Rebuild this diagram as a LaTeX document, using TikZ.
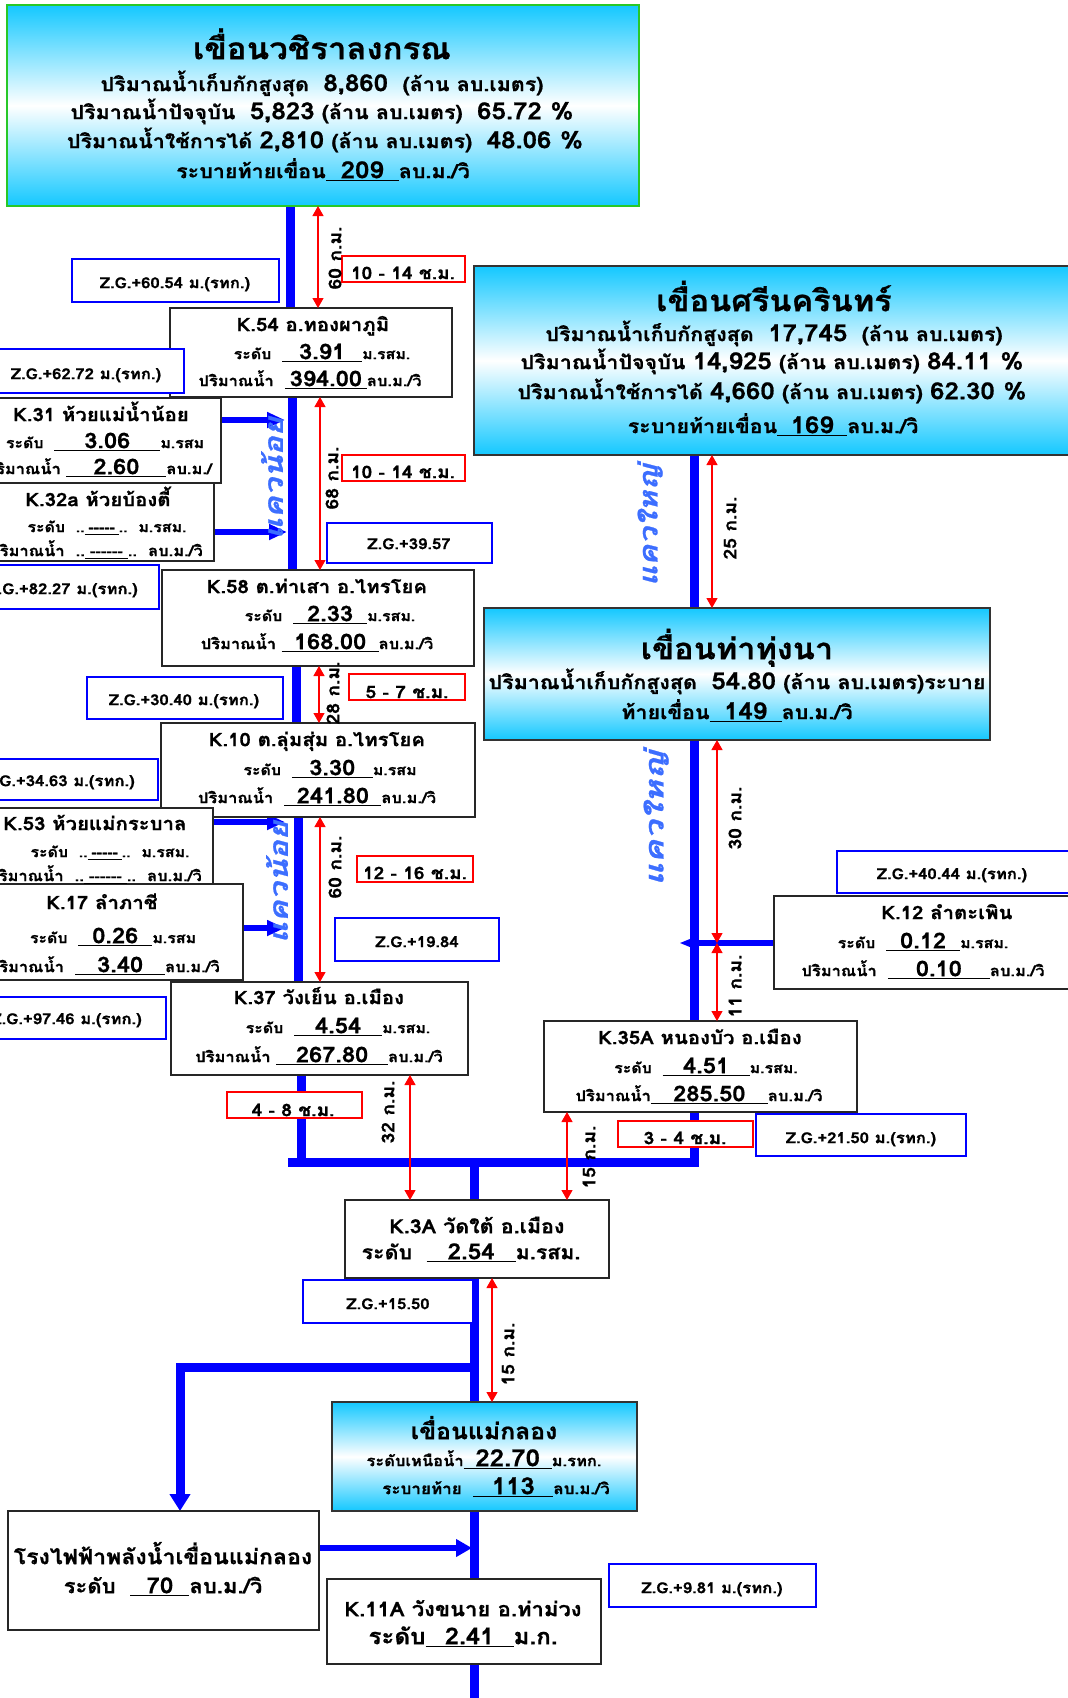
\documentclass[tikz,border=0pt]{standalone}
\usepackage{fontspec}
\newfontfamily\thai[Script=Thai,FakeStretch=1.1,FakeBold=0.8]{Loma}
\usetikzlibrary{arrows.meta}
\definecolor{cy}{RGB}{20,200,255}
\definecolor{kblue}{RGB}{0,0,255}
\definecolor{lblue}{RGB}{60,110,255}
\definecolor{zgreen}{RGB}{40,200,40}
\newcommand\fs[1]{\fontsize{#1}{#1}\selectfont}
\newcommand\uv[2]{\rlap{\rule[-3pt]{#1pt}{1.3pt}}\makebox[#1pt]{#2}}
\newcommand\dd{-\kern0pt}
\newcommand\bxn[6]{\node[#2, anchor=north west, minimum width={(#5)-(#3)}, minimum height={(#6)-(#4)}] (#1) at (#3,#4) {};}
\pgfdeclarelayer{riv}
\pgfsetlayers{riv,main}
\begin{document}
\begin{tikzpicture}[x=1pt,y=-1pt,font=\thai\bfseries,
  bx/.style={draw=black!85, line width=1.4pt, fill=white, inner sep=0, outer sep=0},
  zg/.style={draw=kblue, line width=1.3pt, fill=white, inner sep=0, outer sep=0},
  hr/.style={draw=red, line width=1.3pt, fill=white, inner sep=0, outer sep=0},
  dam/.style={draw=black!80, line width=1.5pt, top color=cy, bottom color=cy, middle color=white, inner sep=0, outer sep=0},
  river/.style={draw=kblue, line width=9pt},
  trib/.style={draw=kblue, line width=6pt, -{Triangle[length=18pt,width=15pt]}},
  dist/.style={draw=red, line width=1.2pt, {Triangle[length=10pt,width=11pt]}-{Triangle[length=10pt,width=11pt]}},
  tx/.style={anchor=mid, inner sep=0, yshift=-4pt},
  ttl/.style={anchor=mid, inner sep=0, yshift=-7pt},
  txe/.style={anchor=mid east, inner sep=0, yshift=-4pt},
  km/.style={rotate=90, inner sep=0, font=\thai\bfseries\fs{17.5}},
  kw/.style={rotate=90, inner sep=0, text=lblue, font=\thai\bfseries\itshape\fs{26}}]
\useasboundingbox (0,0) rectangle (1068,1698);
% ---------- coordinates
\coordinate (xr1) at (290,0);
\coordinate (xr2) at (292,0);
\coordinate (xr3) at (296,0);
\coordinate (xr4) at (298,0);
\coordinate (xr5) at (301,0);
\coordinate (xR) at (694,0);
\coordinate (xC) at (474,0);
\coordinate (xP) at (180,0);
\coordinate (jL) at (288,1162);
\coordinate (jR) at (694,1162);
\coordinate (jC) at (474,1162);
\coordinate (j5) at (301,1166.5);
\coordinate (bj) at (474,1367);
\coordinate (pe) at (472,1548);
\coordinate (bot) at (474,1710);
\coordinate (t31) at (285,420);
\coordinate (t32) at (287,532);
\coordinate (t53) at (285,822);
\coordinate (t17) at (285,928);
\coordinate (t12) at (679,943);
\coordinate (xa1) at (318,0);
\coordinate (xa2) at (320,0);
\coordinate (xa3) at (319,0);
\coordinate (xa4) at (320,0);
\coordinate (xa5) at (410,0);
\coordinate (xa6) at (712,0);
\coordinate (xa7) at (717,0);
\coordinate (xa9) at (567,0);
\coordinate (xa10) at (492,0);
% ---------- boxes
\bxn{d1}{dam,draw=zgreen}{7}{5}{639}{206}
\bxn{d2}{dam}{474}{266}{1075}{455}
\bxn{d3}{dam}{484}{608}{990}{740}
\bxn{d4}{dam}{332}{1402}{637}{1511}
\bxn{k54}{bx}{170}{308}{452}{397}
\bxn{k31}{bx}{-10}{398}{221}{483}
\bxn{k32}{bx}{-10}{483}{214}{561}
\bxn{k58}{bx}{162}{570}{474}{666}
\bxn{k10}{bx}{161}{723}{475}{817}
\bxn{k53}{bx}{-10}{808}{213}{884}
\bxn{k17}{bx}{-10}{884}{243}{980}
\bxn{k37}{bx}{171}{982}{468}{1075}
\bxn{k12}{bx}{774}{896}{1075}{989}
\bxn{k35}{bx}{544}{1021}{857}{1112}
\bxn{k3a}{bx}{345}{1200}{609}{1278}
\bxn{pw}{bx}{8}{1511}{319}{1630}
\bxn{k11}{bx}{327}{1579}{601}{1664}
\bxn{zg1}{zg}{72}{259}{279}{302}
\bxn{zg2}{zg}{-5}{349}{184}{393}
\bxn{zg3}{zg}{-40}{565}{159}{609}
\bxn{zg4}{zg}{327}{523}{492}{563}
\bxn{zg5}{zg}{87}{677}{283}{719}
\bxn{zg6}{zg}{-40}{759}{158}{800}
\bxn{zg7}{zg}{335}{918}{499}{961}
\bxn{zg8}{zg}{-40}{997}{166}{1039}
\bxn{zg9}{zg}{837}{851}{1075}{893}
\bxn{zg10}{zg}{756}{1114}{966}{1156}
\bxn{zg11}{zg}{303}{1280}{473}{1323}
\bxn{zg12}{zg}{609}{1564}{816}{1607}
\bxn{h1}{hr}{342}{256}{465}{282}
\bxn{h2}{hr}{342}{455}{465}{481}
\bxn{h3}{hr}{349}{674}{465}{700}
\bxn{h4}{hr}{357}{856}{473}{882}
\bxn{h5}{hr}{227}{1092}{362}{1118}
\bxn{h6}{hr}{618}{1121}{753}{1147}
% ---------- rivers (lower layer)
\begin{pgfonlayer}{riv}
\fill[white] (0,0) rectangle (1068,1698);
\draw[river] (d1.south -| xr1) -- (k54.north -| xr1);
\draw[river] (k54.south -| xr2) -- (k58.north -| xr2);
\draw[river] (k58.south -| xr3) -- (k10.north -| xr3);
\draw[river] (k10.south -| xr4) -- (k37.north -| xr4);
\draw[river] (k37.south -| xr5) -- (j5);
\draw[river] (k35.south -| xR) -- (jR) -- (jL);
\draw[river] (d2.south -| xR) -- (d3.north -| xR);
\draw[river] (d3.south -| xR) -- (k35.north -| xR);
\draw[river] (jC) -- (k3a.north -| xC);
\draw[river] (k3a.south -| xC) -- (d4.north -| xC);
\draw[river] (d4.south -| xC) -- (k11.north -| xC);
\draw[river] (k11.south -| xC) -- (bot);
\draw[river,-{Triangle[length=17pt,width=20pt]}] (bj) -| (pw.north -| xP);
\draw[kblue,line width=6pt,-{Triangle[length=16pt,width=17pt]}] (pw.east |- pe) -- (pe);
\draw[trib] (k31.east |- t31) -- (t31);
\draw[trib] (k32.east |- t32) -- (t32);
\draw[trib] (k53.east |- t53) -- (t53);
\draw[trib] (k17.east |- t17) -- (t17);
\draw[kblue,line width=6pt,-{Triangle[length=19pt,width=13pt]}] (k12.west |- t12) -- (t12);
\end{pgfonlayer}
% ---------- distance arrows
\draw[dist] (d1.south -| xa1) -- (k54.north -| xa1);
\draw[dist] (k54.south -| xa2) -- (k58.north -| xa2);
\draw[dist] (k58.south -| xa3) -- (k10.north -| xa3);
\draw[dist] (k10.south -| xa4) -- (k37.north -| xa4);
\draw[dist] (k37.south -| xa5) -- (k3a.north -| xa5);
\draw[dist] (d2.south -| xa6) -- (d3.north -| xa6);
\draw[dist] (d3.south -| xa7) -- (t12 -| xa7);
\draw[dist] (t12 -| xa7) -- (k35.north -| xa7);
\draw[dist] (k35.south -| xa9) -- (k3a.north -| xa9);
\draw[dist] (k3a.south -| xa10) -- (d4.north -| xa10);
% ---------- dam texts
\node[ttl] (d1a) at (322,50) {\fs{30}เขื่อนวชิราลงกรณ};
\node[tx] (d1b) at (322,85) {\fs{19.5}ปริมาณน้ำเก็บกักสูงสุด\ \ {\fs{23.5}8,860}\ \ (ล้าน ลบ.เมตร)};
\node[tx] (d1c) at (322,113) {\fs{19.5}ปริมาณน้ำปัจจุบัน\ \ {\fs{23.5}5,823} (ล้าน ลบ.เมตร)\ \ {\fs{23.5}65.72 \%}};
\node[tx] (d1d) at (325,142) {\fs{19.5}ปริมาณน้ำใช้การได้ {\fs{23.5}2,810} (ล้าน ลบ.เมตร)\ \ {\fs{23.5}48.06 \%}};
\node[tx] (d1e) at (323,172) {\fs{19.5}ระบายท้ายเขื่อน\uv{73}{\fs{23.5}209}ลบ.ม./วิ};
\node[ttl] (d2a) at (774,302) {\fs{29.5}เขื่อนศรีนครินทร์};
\node[tx] (d2b) at (774,335) {\fs{19.5}ปริมาณน้ำเก็บกักสูงสุด\ \ {\fs{23.5}17,745}\ \ (ล้าน ลบ.เมตร)};
\node[tx] (d2c) at (772,363) {\fs{19.5}ปริมาณน้ำปัจจุบัน {\fs{23.5}14,925} (ล้าน ลบ.เมตร) {\fs{23.5}84.11 \%}};
\node[tx] (d2d) at (772,393) {\fs{19.5}ปริมาณน้ำใช้การได้ {\fs{23.5}4,660} (ล้าน ลบ.เมตร) {\fs{23.5}62.30 \%}};
\node[tx] (d2e) at (773,427) {\fs{19.5}ระบายท้ายเขื่อน\uv{70}{\fs{23.5}169}ลบ.ม./วิ};
\node[ttl] (d3a) at (737,650) {\fs{29.5}เขื่อนท่าทุ่งนา};
\node[tx] (d3b) at (737,683) {\fs{19.5}ปริมาณน้ำเก็บกักสูงสุด\ \ {\fs{23.5}54.80} (ล้าน ลบ.เมตร)ระบาย};
\node[tx] (d3c) at (737,713) {\fs{19.5}ท้ายเขื่อน\uv{72}{\fs{23.5}149}ลบ.ม./วิ};
\node[ttl] (d4a) at (484,1430) {\fs{22.5}เขื่อนแม่กลอง};
\node[tx] (d4b) at (484,1460) {\fs{15}ระดับเหนือน้ำ\uv{88}{\fs{23.5}22.70}ม.รทก.};
\node[tx] (d4c) at (496,1488) {\fs{15.5}ระบายท้าย\ \ \uv{80}{\fs{23.5}113}ลบ.ม./วิ};
% ---------- station texts
\node[tx] (k54a) at (313,325) {\fs{18.5}K.54 อ.ทองผาภูมิ};
\node[tx] (k54b) at (322,353) {\fs{14.5}ระดับ\ \ \uv{80}{\fs{21.5}3.91}ม.รสม.};
\node[tx] (k54c) at (310,380) {\fs{15}ปริมาณน้ำ\ \ \uv{82}{\fs{21.5}394.00}ลบ.ม./วิ};
\node[tx] (k31a) at (101,415) {\fs{18.5}K.31 ห้วยแม่น้ำน้อย};
\node[tx] (k31b) at (105,442) {\fs{14.5}ระดับ\ \ \uv{106}{\fs{21.5}3.06}ม.รสม};
\node[txe] (k31c) at (212,468) {\fs{15}ปริมาณน้ำ\ \uv{100}{\fs{21.5}2.60}ลบ.ม./};
\node[tx] (k32a) at (98,500) {\fs{18.5}K.32a ห้วยบ้องตี้};
\node[tx] (k32b) at (107,526) {\fs{14.5}ระดับ\ \ ..\uv{34}{\dd\dd\dd\dd-}..\ \ ม.รสม.};
\node[txe] (k32c) at (203,550) {\fs{15}ปริมาณน้ำ\ \ ..\uv{43}{\dd\dd\dd\dd\dd-}..\ \ ลบ.ม./วิ};
\node[tx] (k58a) at (317,587) {\fs{18.5}K.58 ต.ท่าเสา อ.ไทรโยค};
\node[tx] (k58b) at (330,615) {\fs{14.5}ระดับ\ \ \uv{74}{\fs{21.5}2.33}ม.รสม.};
\node[tx] (k58c) at (317,643) {\fs{15}ปริมาณน้ำ \uv{97}{\fs{21.5}168.00}ลบ.ม./วิ};
\node[tx] (k10a) at (317,740) {\fs{18.5}K.10 ต.ลุ่มสุ่ม อ.ไทรโยค};
\node[tx] (k10b) at (330,769) {\fs{14.5}ระดับ\ \ \uv{81}{\fs{21.5}3.30}ม.รสม};
\node[tx] (k10c) at (317,797) {\fs{15}ปริมาณน้ำ\ \ \uv{97}{\fs{21.5}241.80}ลบ.ม./วิ};
\node[tx] (k53a) at (95,824) {\fs{18.5}K.53 ห้วยแม่กระบาล};
\node[tx] (k53b) at (110,851) {\fs{14.5}ระดับ\ \ ..\uv{34}{\dd\dd\dd\dd-}..\ \ ม.รสม.};
\node[txe] (k53c) at (202,875) {\fs{15}ปริมาณน้ำ\ \ ..\uv{43}{\dd\dd\dd\dd\dd-}..\ \ ลบ.ม./วิ};
\node[tx] (k17a) at (102,903) {\fs{18.5}K.17 ลำภาชี};
\node[tx] (k17b) at (113,937) {\fs{14.5}ระดับ\ \ \uv{74}{\fs{21.5}0.26}ม.รสม};
\node[txe] (k17c) at (220,966) {\fs{15}ปริมาณน้ำ\ \ \uv{90}{\fs{21.5}3.40}ลบ.ม./วิ};
\node[tx] (k37a) at (319,998) {\fs{18.5}K.37 วังเย็น อ.เมือง};
\node[tx] (k37b) at (338,1027) {\fs{14.5}ระดับ\ \ \uv{88}{\fs{21.5}4.54}ม.รสม.};
\node[tx] (k37c) at (319,1056) {\fs{15}ปริมาณน้ำ \uv{112}{\fs{21.5}267.80}ลบ.ม./วิ};
\node[tx] (k12a) at (947,913) {\fs{18.5}K.12 ลำตะเพิน};
\node[tx] (k12b) at (923,942) {\fs{14.5}ระดับ\ \ \uv{74}{\fs{21.5}0.12}ม.รสม.};
\node[tx] (k12c) at (923,970) {\fs{15}ปริมาณน้ำ\ \ \uv{102}{\fs{21.5}0.10}ลบ.ม./วิ};
\node[tx] (k35a) at (700,1038) {\fs{18.5}K.35A หนองบัว อ.เมือง};
\node[tx] (k35b) at (706,1067) {\fs{14.5}ระดับ\ \ \uv{87}{\fs{21.5}4.51}ม.รสม.};
\node[tx] (k35c) at (699,1095) {\fs{15}ปริมาณน้ำ\uv{117}{\fs{21.5}285.50}ลบ.ม./วิ};
\node[tx] (k3aa) at (477,1227) {\fs{19.5}K.3A วัดใต้ อ.เมือง};
\node[tx] (k3ab) at (471,1253) {\fs{19.5}ระดับ\ \ \uv{89}{\fs{22}2.54}ม.รสม.};
\node[tx] (pwa) at (163,1558) {\fs{21}โรงไฟฟ้าพลังน้ำเขื่อนแม่กลอง};
\node[tx] (pwb) at (163,1587) {\fs{20}ระดับ\ \ \uv{59}{\fs{22}70}ลบ.ม./วิ};
\node[tx] (k11a) at (463,1610) {\fs{20}K.11A วังขนาย อ.ท่าม่วง};
\node[tx] (k11b) at (463,1638) {\fs{22}ระดับ\uv{88}{\fs{23}2.41}ม.ก.};
% ---------- Z.G. texts
\node[tx] (zg1t) at (175,282) {\fs{15.2}Z.G.+60.54 ม.(รทก.)};
\node[tx] (zg2t) at (86,373) {\fs{15.2}Z.G.+62.72 ม.(รทก.)};
\node[txe] (zg3t) at (138,588) {\fs{15.2}Z.G.+82.27 ม.(รทก.)};
\node[tx] (zg4t) at (409,543) {\fs{15.2}Z.G.+39.57};
\node[tx] (zg5t) at (184,699) {\fs{15.2}Z.G.+30.40 ม.(รทก.)};
\node[txe] (zg6t) at (135,780) {\fs{15.2}Z.G.+34.63 ม.(รทก.)};
\node[tx] (zg7t) at (417,941) {\fs{15.2}Z.G.+19.84};
\node[txe] (zg8t) at (142,1018) {\fs{15.2}Z.G.+97.46 ม.(รทก.)};
\node[tx] (zg9t) at (952,873) {\fs{15.2}Z.G.+40.44 ม.(รทก.)};
\node[tx] (zg10t) at (861,1137) {\fs{15.2}Z.G.+21.50 ม.(รทก.)};
\node[tx] (zg11t) at (388,1303) {\fs{15.2}Z.G.+15.50};
\node[tx] (zg12t) at (712,1587) {\fs{15.2}Z.G.+9.81 ม.(รทก.)};
% ---------- travel time texts
\node[tx] (h1t) at (403,273) {\fs{17.3}10 - 14 ช.ม.};
\node[tx] (h2t) at (403,472) {\fs{17.3}10 - 14 ช.ม.};
\node[tx] (h3t) at (407,692) {\fs{17.3}5 - 7 ช.ม.};
\node[tx] (h4t) at (415,873) {\fs{17.3}12 - 16 ช.ม.};
\node[tx] (h5t) at (293,1110) {\fs{17.3}4 - 8 ช.ม.};
\node[tx] (h6t) at (685,1138) {\fs{17.3}3 - 4 ช.ม.};
% ---------- distance labels
\node[km] (km1) at (335,258) {60 ก.ม.};
\node[km] (km2) at (332,478) {68 ก.ม.};
\node[km] (km3) at (333,693) {28 ก.ม.};
\node[km] (km4) at (335,867) {60 ก.ม.};
\node[km] (km5) at (388,1112) {32 ก.ม.};
\node[km] (km6) at (730,528) {25 ก.ม.};
\node[km] (km7) at (735,818) {30 ก.ม.};
\node[km] (km8) at (735,986) {11 ก.ม.};
\node[km] (km9) at (589,1157) {15 ก.ม.};
\node[km] (km10) at (508,1354) {15 ก.ม.};
% ---------- river names
\node[kw] (rn1) at (272,478) {\scalebox{1.14}[1]{แควน้อย}};
\node[kw] (rn2) at (277,882) {\scalebox{1.14}[1]{แควน้อย}};
\node[kw] (rn3) at (650,525) {\scalebox{1.1}[1]{แควใหญ่}};
\node[kw] (rn4) at (656,818) {\scalebox{1.22}[1]{แควใหญ่}};
\end{tikzpicture}
\end{document}
